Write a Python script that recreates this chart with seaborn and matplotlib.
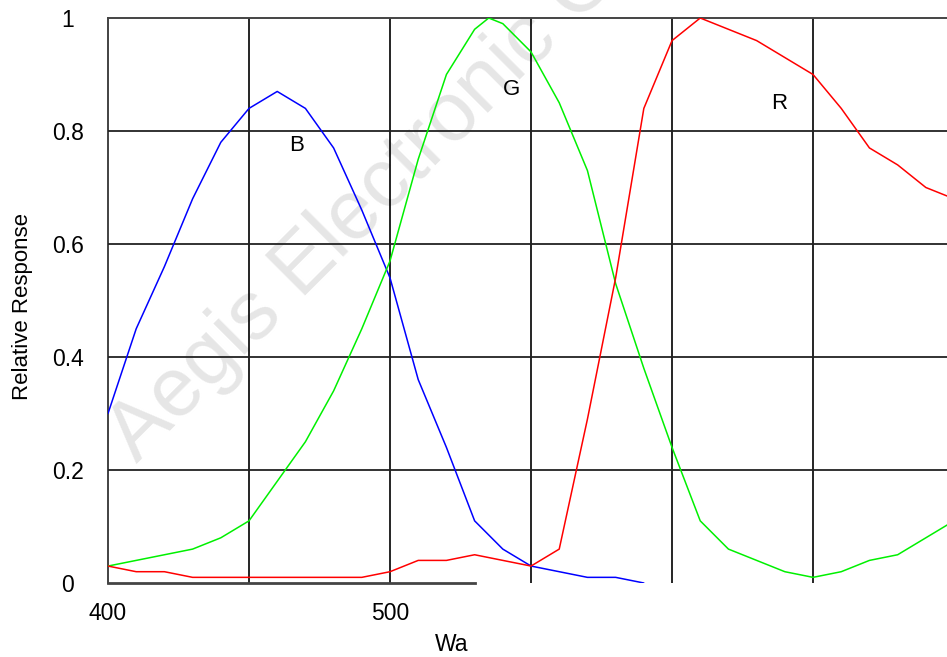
import matplotlib
matplotlib.use("Agg")
import matplotlib.pyplot as plt
import seaborn as sns
import pandas as pd

# spectral response
wl_blue = [400, 410, 420, 430, 440, 450, 460, 470, 480, 490, 500,
           510, 520, 530, 540, 550, 560, 570, 580, 590]
blue = [0.30, 0.45, 0.56, 0.68, 0.78, 0.84, 0.87, 0.84, 0.77, 0.66, 0.54,
        0.36, 0.24, 0.11, 0.06, 0.03, 0.02, 0.01, 0.01, 0.00]

wl_green = [400, 410, 420, 430, 440, 450, 460, 470, 480, 490, 500, 510, 520, 530, 535,
            540, 550, 560, 570, 580, 590, 600, 610, 620, 630, 640, 650, 660, 670, 680, 690, 700]
green = [0.03, 0.04, 0.05, 0.06, 0.08, 0.11, 0.18, 0.25, 0.34, 0.45, 0.57, 0.75, 0.90, 0.98, 1.00,
         0.99, 0.94, 0.85, 0.73, 0.53, 0.38, 0.24, 0.11, 0.06, 0.04, 0.02, 0.01, 0.02, 0.04, 0.05, 0.08, 0.11]

wl_red = [400, 410, 420, 430, 440, 450, 460, 470, 480, 490, 500, 510, 520, 530, 540, 550,
          560, 570, 580, 590, 600, 610, 620, 630, 640, 650, 660, 670, 680, 690, 700]
red = [0.03, 0.02, 0.02, 0.01, 0.01, 0.01, 0.01, 0.01, 0.01, 0.01, 0.02, 0.04, 0.04, 0.05, 0.04, 0.03,
       0.06, 0.29, 0.54, 0.84, 0.96, 1.00, 0.98, 0.96, 0.93, 0.90, 0.84, 0.77, 0.74, 0.70, 0.68]

curve_labels = ['B', 'G', 'R']
label_pos = [(467, 0.775), (543, 0.874), (638, 0.848)]

x_ticks = [400, 450, 500, 550, 600, 650]
x_ticklabels = ['400', '', '500', '', '', '']
y_ticks = [0, 0.2, 0.4, 0.6, 0.8, 1.0]
y_ticklabels = ['0', '0.2', '0.4', '0.6', '0.8', '1']

sns.set_style("white")
plt.rcParams['font.family'] = ['Liberation Sans', 'DejaVu Sans']
plt.rcParams['text.color'] = 'black'
plt.rcParams['axes.labelcolor'] = 'black'
plt.rcParams['xtick.color'] = 'black'
plt.rcParams['ytick.color'] = 'black'

fig = plt.figure(figsize=(9.47, 6.57), dpi=100)
ax = fig.add_axes([108 / 947, 74 / 657, 839 / 947, 565 / 657])
ax.set_facecolor('none')

# watermark behind everything
fig.text(137 / 947, 1 - 464 / 657, 'Aegis Electronic Group', fontsize=60, color='#e6e6e6',
         rotation=45, rotation_mode='anchor', ha='left', va='baseline', zorder=-5)

df_b = pd.DataFrame({'wl': wl_blue, 'resp': blue})
df_g = pd.DataFrame({'wl': wl_green, 'resp': green})
df_r = pd.DataFrame({'wl': wl_red, 'resp': red})
sns.lineplot(data=df_b, x='wl', y='resp', color='#0000ff', lw=1.1, ax=ax, zorder=3)
sns.lineplot(data=df_g, x='wl', y='resp', color='#00f000', lw=1.1, ax=ax, zorder=3)
sns.lineplot(data=df_r, x='wl', y='resp', color='#ff0000', lw=1.1, ax=ax, zorder=3)

for lab, (lx, ly) in zip(curve_labels, label_pos):
    ax.text(lx, ly, lab, fontsize=16, ha='center', va='center', color='black', zorder=4)

ax.set_xlim(400, 697.5)
ax.set_ylim(0, 1)
ax.set_xticks(x_ticks)
ax.set_xticklabels(x_ticklabels)
ax.set_yticks(y_ticks)
ax.set_yticklabels(y_ticklabels, ha='center')
ax.tick_params(axis='both', length=0, labelsize=16.5)
ax.tick_params(axis='y', pad=29)
ax.tick_params(axis='x', pad=14)

# grid
for xv in x_ticks[1:]:
    ax.axvline(xv, color='black', lw=1.2, zorder=1)
for yv in y_ticks[1:-1]:
    ax.axhline(yv, color='#222222', lw=1.3, zorder=1)

ax.spines['right'].set_visible(False)
ax.spines['top'].set_color('#444444')
ax.spines['top'].set_linewidth(1.4)
ax.spines['left'].set_color('#222222')
ax.spines['left'].set_linewidth(1.2)
ax.spines['bottom'].set_color('#444444')
ax.spines['bottom'].set_linewidth(2)
ax.spines['bottom'].set_bounds(400, 530)

ax.set_xlabel('Wa', fontsize=16.5)
ax.xaxis.set_label_coords(0.41, -0.108)
ax.xaxis.label.set_va('center')
ax.set_ylabel('Relative Response', fontsize=16)
ax.yaxis.set_label_coords(-0.1025, 0.49)
ax.yaxis.label.set_va('center')

fig.savefig('out.png', dpi=100)
